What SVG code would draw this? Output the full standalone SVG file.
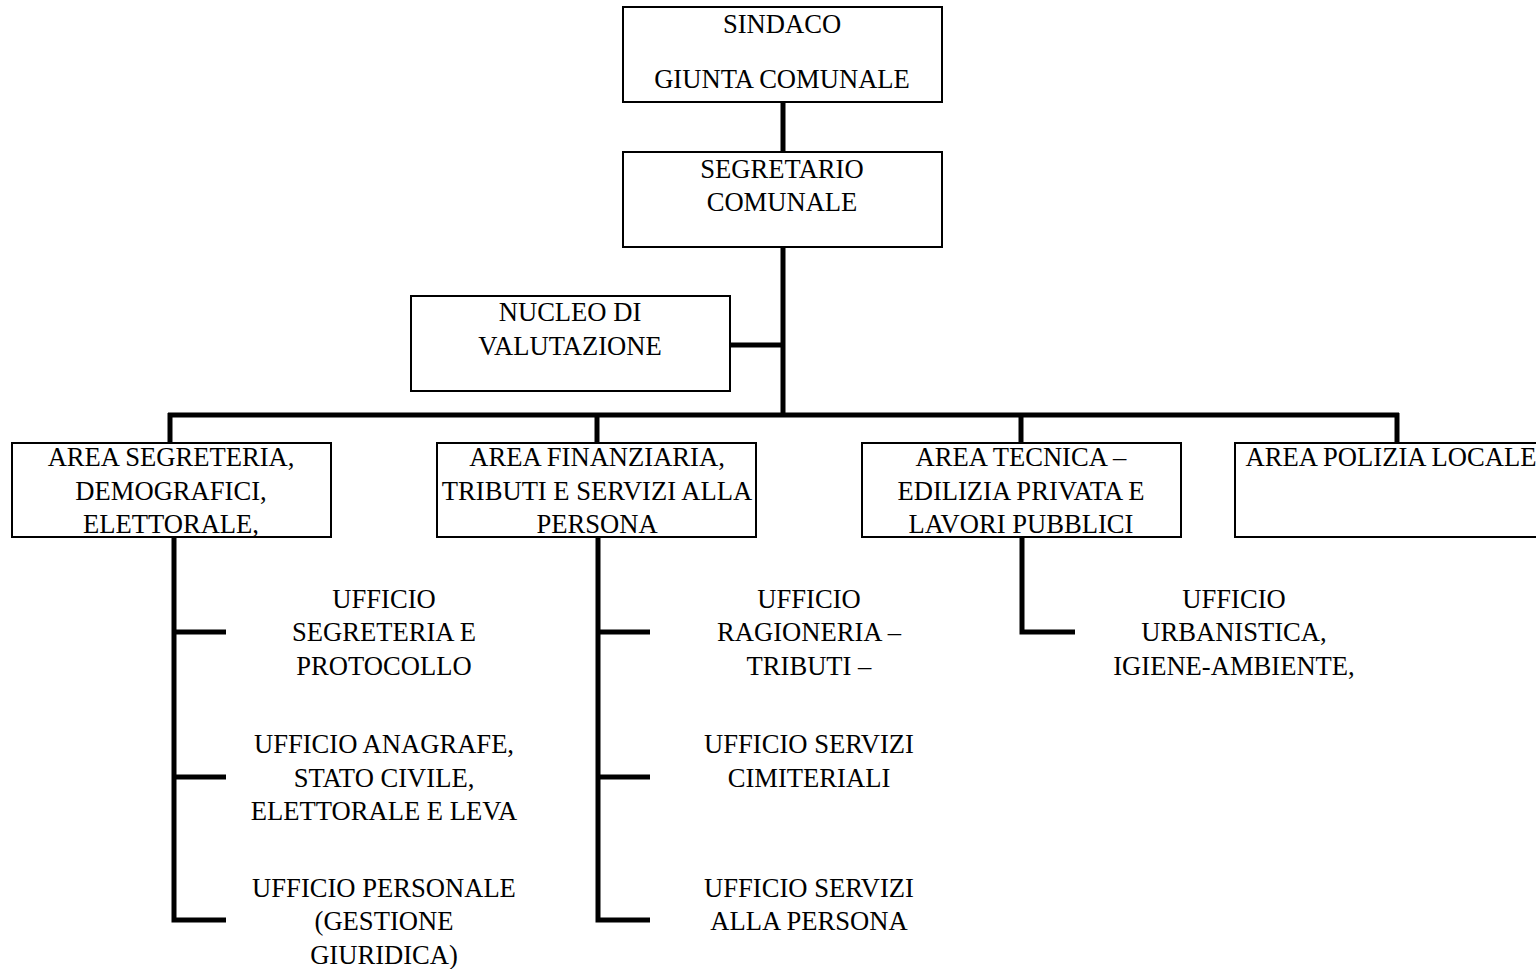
<svg xmlns="http://www.w3.org/2000/svg" width="1536" height="969" viewBox="0 0 1536 969">
<style>
.box{fill:#fff;stroke:#000;stroke-width:2}
.ln{stroke:#000;stroke-width:5;fill:none;stroke-linecap:butt}
text{font-family:"Liberation Serif","Times New Roman","DejaVu Serif",serif;font-size:26.6px;fill:#000;text-anchor:middle}
</style>
<rect width="1536" height="969" fill="#fff"/>
<g id="connectors">
<path class="ln" d="M783 102V152"/>
<path class="ln" d="M783 247V417"/>
<path class="ln" d="M730 345H783"/>
<path class="ln" d="M168 415H1399"/>
<path class="ln" d="M170 413V443"/>
<path class="ln" d="M597 413V443"/>
<path class="ln" d="M1021 413V443"/>
<path class="ln" d="M1397 413V443"/>
<path class="ln" d="M174 537V920H226"/>
<path class="ln" d="M174 632H226"/>
<path class="ln" d="M174 777H226"/>
<path class="ln" d="M598 537V920H650"/>
<path class="ln" d="M598 632H650"/>
<path class="ln" d="M598 777H650"/>
<path class="ln" d="M1022 537V632H1075"/>
</g>
<g id="sindaco">
<rect class="box" x="623" y="7" width="319" height="95"/>
<text x="782" y="33">SINDACO</text>
<text x="782" y="88">GIUNTA COMUNALE</text>
</g>
<g id="segretario">
<rect class="box" x="623" y="152" width="319" height="95"/>
<text x="782" y="178">SEGRETARIO</text>
<text x="782" y="211">COMUNALE</text>
</g>
<g id="nucleo">
<rect class="box" x="411" y="296" width="319" height="95"/>
<text x="570" y="321">NUCLEO DI</text>
<text x="570" y="355">VALUTAZIONE</text>
</g>
<g id="area-segreteria">
<rect class="box" x="12" y="443" width="319" height="94"/>
<text x="171" y="466">AREA SEGRETERIA,</text>
<text x="171" y="500">DEMOGRAFICI,</text>
<text x="171" y="533">ELETTORALE,</text>
</g>
<g id="area-finanziaria">
<rect class="box" x="437" y="443" width="319" height="94"/>
<text x="597" y="466">AREA FINANZIARIA,</text>
<text x="597" y="500">TRIBUTI E SERVIZI ALLA</text>
<text x="597" y="533">PERSONA</text>
</g>
<g id="area-tecnica">
<rect class="box" x="862" y="443" width="319" height="94"/>
<text x="1021" y="466">AREA TECNICA –</text>
<text x="1021" y="500">EDILIZIA PRIVATA E</text>
<text x="1021" y="533">LAVORI PUBBLICI</text>
</g>
<g id="area-polizia">
<rect class="box" x="1235" y="443" width="319" height="94"/>
<text x="1391" y="466">AREA POLIZIA LOCALE</text>
</g>
<g id="uff-segreteria">
<text x="384" y="608">UFFICIO</text>
<text x="384" y="641">SEGRETERIA E</text>
<text x="384" y="675">PROTOCOLLO</text>
</g>
<g id="uff-anagrafe">
<text x="384" y="753">UFFICIO ANAGRAFE,</text>
<text x="384" y="787">STATO CIVILE,</text>
<text x="384" y="820">ELETTORALE E LEVA</text>
</g>
<g id="uff-personale">
<text x="384" y="897">UFFICIO PERSONALE</text>
<text x="384" y="930">(GESTIONE</text>
<text x="384" y="964">GIURIDICA)</text>
</g>
<g id="uff-ragioneria">
<text x="809" y="608">UFFICIO</text>
<text x="809" y="641">RAGIONERIA –</text>
<text x="809" y="675">TRIBUTI –</text>
</g>
<g id="uff-cimiteriali">
<text x="809" y="753">UFFICIO SERVIZI</text>
<text x="809" y="787">CIMITERIALI</text>
</g>
<g id="uff-persona">
<text x="809" y="897">UFFICIO SERVIZI</text>
<text x="809" y="930">ALLA PERSONA</text>
</g>
<g id="uff-urbanistica">
<text x="1234" y="608">UFFICIO</text>
<text x="1234" y="641">URBANISTICA,</text>
<text x="1234" y="675">IGIENE-AMBIENTE,</text>
</g>
</svg>
